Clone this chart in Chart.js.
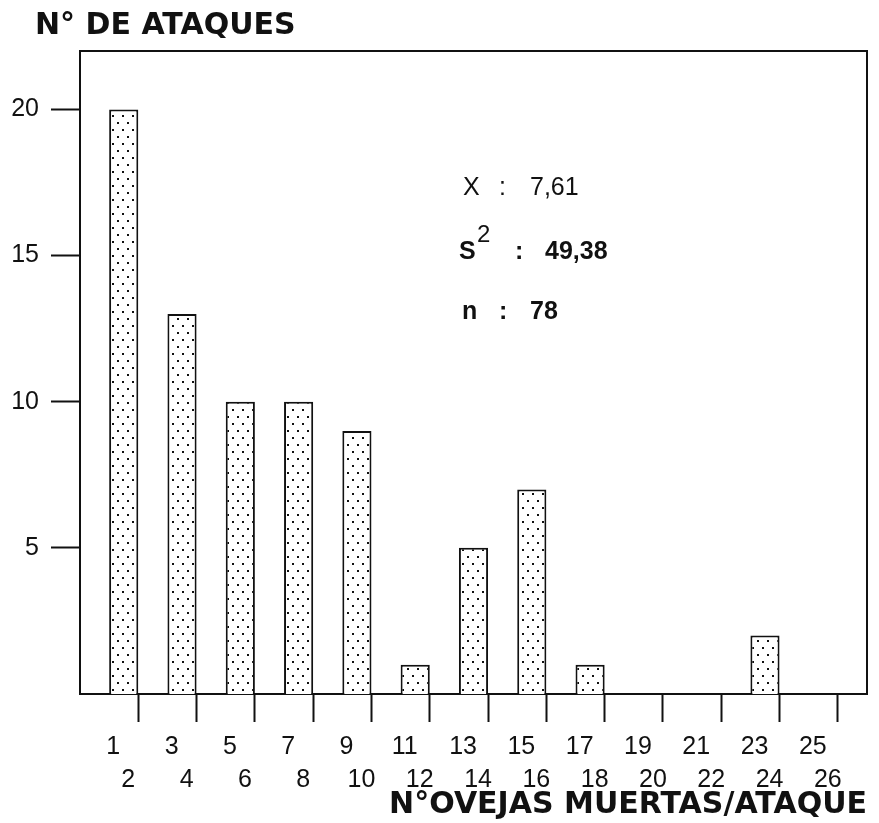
<!DOCTYPE html>
<html>
<head>
<meta charset="utf-8">
<script src="https://cdn.jsdelivr.net/npm/chart.js@4"></script>
<style>
    html, body { margin: 0; padding: 0; background: #fff; }
</style>
</head>
<body>
<canvas id="ataques-chart" width="879" height="823"></canvas>
<script>

// Datos: ataques por clase de ovejas muertas (1-2, 3-4, ... 25-26)
var binEnds = [1, 2, 3, 4, 5, 6, 7, 8, 9, 10, 11, 12, 13];
var oddLabels = ['1', '3', '5', '7', '9', '11', '13', '15', '17', '19', '21', '23', '25'];
var evenLabels = ['2', '4', '6', '8', '10', '12', '14', '16', '18', '20', '22', '24', '26'];
var attacks = [20, 13, 10, 10, 9, 1, 5, 7, 1, 0, 0, 2, 0];
var yTicks = [5, 10, 15, 20];
var statNames = ['X', 'S', 'n'];
var statValues = ['7,61', '49,38', '78'];

var INK = '#111';
var tickFont = { family: '"Liberation Sans", Arial, sans-serif', size: 25 };
var titleFont = { family: '"DejaVu Sans", sans-serif', size: 30, weight: 'bold' };

// dotted fill like the printed figure
function dotPattern() {
    var c = document.createElement('canvas');
    c.width = 10; c.height = 14;
    var g = c.getContext('2d');
    g.fillStyle = '#fff';
    g.fillRect(0, 0, 10, 14);
    g.fillStyle = '#111';
    g.fillRect(2, 3, 2, 2);
    g.fillRect(7, 10, 2, 2);
    return g.createPattern(c, 'repeat');
}

var extras = {
    id: 'extras',
    afterDraw: function(chart) {
        var ctx = chart.ctx, a = chart.chartArea;
        ctx.save();
        // top and right sides of the frame
        ctx.strokeStyle = INK;
        ctx.lineWidth = 2;
        ctx.beginPath();
        ctx.moveTo(a.left, a.top);
        ctx.lineTo(a.right, a.top);
        ctx.lineTo(a.right, a.bottom);
        ctx.stroke();

        ctx.fillStyle = INK;
        ctx.textBaseline = 'middle';
        ctx.textAlign = 'left';
        ctx.font = 'bold 30px "DejaVu Sans", sans-serif';
        ctx.fillText('N° DE ATAQUES', 35, 26);

        // statistics block
        var rows = [188, 252, 312];
        var sx = [463, 459, 462];
        for (var i = 0; i < statNames.length; i++) {
            ctx.font = (i === 0 ? '' : 'bold ') + '25px "Liberation Sans", Arial, sans-serif';
            ctx.fillText(statNames[i], sx[i], rows[i]);
            var colonX = i === 1 ? 515 : 499;
            var valX = i === 1 ? 545 : 530;
            ctx.fillText(':', colonX, rows[i]);
            ctx.fillText(statValues[i], valX, rows[i]);
        }
        ctx.font = '24px "Liberation Sans", Arial, sans-serif';
        ctx.fillText('2', 477, 235);
        ctx.restore();
    }
};

var ctx = document.getElementById('ataques-chart');
var myChart = new Chart(ctx, {
    type: 'bar',
    data: {
        datasets: [{
            data: binEnds.map(function(b, i) { return { x: b - 0.25, y: attacks[i] }; }),
            backgroundColor: dotPattern(),
            borderColor: INK,
            borderWidth: 2,
            categoryPercentage: 1,
            barPercentage: 0.5
        }]
    },
    options: {
        responsive: false,
        animation: false,
        layout: { padding: { left: 0, right: 12, top: 51, bottom: 0 } },
        plugins: {
            legend: { display: false },
            tooltip: { enabled: false }
        },
        scales: {
            x: {
                type: 'linear',
                position: 'bottom',
                offset: false,
                min: 0,
                max: 13.5,
                afterBuildTicks: function(s) { s.ticks = binEnds.map(function(v) { return { value: v }; }); },
                afterFit: function(s) { s.height = 61; },
                grid: { offset: false, drawOnChartArea: false, drawTicks: true, tickLength: 28, tickWidth: 2, color: INK },
                border: { display: true, color: INK, width: 2 },
                ticks: {
                    callback: function(v, i) { return oddLabels[i]; },
                    labelOffset: -25,
                    padding: 10,
                    maxRotation: 0,
                    autoSkip: false,
                    color: INK,
                    font: tickFont
                }
            },
            x2: {
                type: 'linear',
                position: 'bottom',
                offset: false,
                min: 0,
                max: 13.5,
                afterBuildTicks: function(s) { s.ticks = binEnds.map(function(v) { return { value: v }; }); },
                afterFit: function(s) { s.height = 68; },
                grid: { display: false, offset: false },
                border: { display: false },
                ticks: {
                    callback: function(v, i) { return evenLabels[i]; },
                    labelOffset: -10,
                    padding: 2,
                    maxRotation: 0,
                    autoSkip: false,
                    color: INK,
                    font: tickFont
                },
                title: {
                    display: true,
                    text: 'N°OVEJAS MUERTAS/ATAQUE',
                    align: 'end',
                    color: INK,
                    font: titleFont,
                    padding: { top: 0, bottom: 0 }
                }
            },
            y: {
                min: 0,
                max: 22,
                afterBuildTicks: function(s) { s.ticks = yTicks.map(function(v) { return { value: v }; }); },
                afterFit: function(s) { s.width = 80; },
                grid: { drawOnChartArea: false, drawTicks: true, tickLength: 29, tickWidth: 2, color: INK },
                border: { display: true, color: INK, width: 2 },
                ticks: { padding: 12, color: INK, font: tickFont }
            }
        }
    },
    plugins: [extras]
});
</script>
</body>
</html>
